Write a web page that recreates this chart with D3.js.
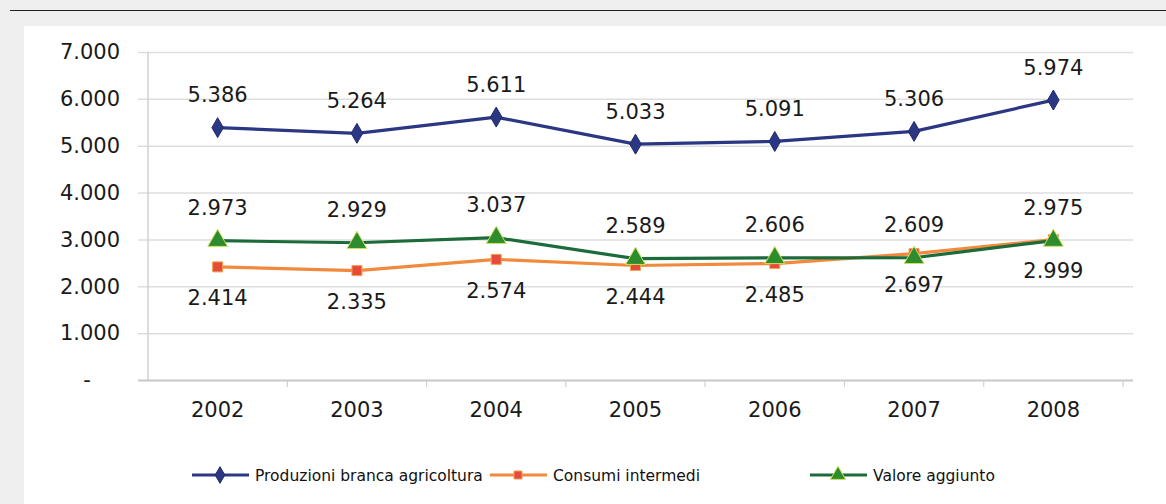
<!DOCTYPE html>
<html>
<head>
<meta charset="utf-8">
<script src="https://cdn.jsdelivr.net/npm/d3@7"></script>
<style>
  body { margin: 0; background: #efefef; }
  svg { display: block; }
  text { font-family: "DejaVu Sans", Verdana, sans-serif; fill: #1a1a1a; }
</style>
</head>
<body>
<div id="graph"></div>
<script>
'use strict';

const years = ['2002', '2003', '2004', '2005', '2006', '2007', '2008'];
const produzioni = [5386, 5264, 5611, 5033, 5091, 5306, 5974];
const consumi = [2414, 2335, 2574, 2444, 2485, 2697, 2999];
const valore = [2973, 2929, 3037, 2589, 2606, 2609, 2975];
const yTicks = [0, 1000, 2000, 3000, 4000, 5000, 6000, 7000];
const seriesNames = ['Produzioni branca agricoltura', 'Consumi intermedi', 'Valore aggiunto'];

var W = 1166, H = 504;
var padl = 148, padr = 43, padt = 52, padb = 124;
var w = W - padl - padr, h = H - padt - padb;

var fmt = d3.formatLocale({ decimal: ',', thousands: '.', grouping: [3] }).format(',');

var x = d3.scaleBand().domain(years).range([0, w]);
var y = d3.scaleLinear().domain([0, 7000]).range([h, 0]);

var svg = d3.select('#graph').append('svg')
    .attr('width', W)
    .attr('height', H);

// background: grey frame, black rule, white panel
svg.append('line')
    .attr('x1', 10).attr('x2', W).attr('y1', 10.5).attr('y2', 10.5)
    .attr('stroke', '#222').attr('stroke-width', 1.2);
svg.append('rect')
    .attr('x', 24).attr('y', 26).attr('width', W - 24).attr('height', H - 26)
    .attr('fill', '#fff');

var vis = svg.append('g')
    .attr('transform', 'translate(' + padl + ',' + padt + ')');

// gridlines + y labels
var yAxis = d3.axisLeft(y)
    .tickValues(yTicks)
    .tickSize(-w - 10)
    .tickPadding(18)
    .tickFormat((d) => d === 0 ? '-' : fmt(d));

vis.append('g')
    .attr('class', 'y axis')
    .attr('transform', 'translate(-10,0)')
    .call(yAxis)
    .call((g) => g.select('.domain').remove())
    .call((g) => g.selectAll('.tick line')
        .attr('transform', 'translate(10,0)')
        .attr('x1', -10)
        .attr('stroke', (d) => d === 0 ? '#c8c8c8' : '#dedede')
        .attr('stroke-width', (d) => d === 0 ? 2 : 1.5))
    .call((g) => g.selectAll('.tick text')
        .attr('x', (d) => d === 0 ? -51 : -18)
        .attr('text-anchor', (d) => d === 0 ? 'middle' : 'end')
        .style('font-size', '21px'));

// vertical axis line
vis.append('line')
    .attr('x1', 0).attr('x2', 0).attr('y1', 0).attr('y2', h)
    .attr('stroke', '#d0d0d0').attr('stroke-width', 1.5);

// x axis
var xAxis = d3.axisBottom(x).tickSize(0).tickPadding(22);
vis.append('g')
    .attr('class', 'x axis')
    .attr('transform', 'translate(0,' + h + ')')
    .call(xAxis)
    .call((g) => g.select('.domain').remove())
    .call((g) => g.selectAll('.tick text').style('font-size', '21px'));

// band separators below the zero line
vis.append('g').selectAll('line')
    .data(years)
    .enter().append('line')
    .attr('x1', (d) => x(d) + x.bandwidth())
    .attr('x2', (d) => x(d) + x.bandwidth())
    .attr('y1', h).attr('y2', h + 7)
    .attr('stroke', '#d0d0d0').attr('stroke-width', 1.2);

var cx = (i) => x(years[i]) + x.bandwidth() / 2;

var series = [
  { name: seriesNames[0], data: produzioni, line: '#2b3783', marker: d3.symbolDiamond, size: 115, lsize: 80, fill: '#2b3783', stroke: '#1f2a6e', dy: -33 },
  { name: seriesNames[1], data: consumi, line: '#f08a3c', marker: d3.symbolSquare, size: 100, lsize: 64, fill: '#e84a3a', stroke: '#f0a050', dy: 31 },
  { name: seriesNames[2], data: valore, line: '#1c6b3a', marker: d3.symbolTriangle, size: 170, lsize: 100, fill: '#2e8b2e', stroke: '#cfe060', dy: -33 }
];

var line = d3.line().x((d, i) => cx(i)).y((d) => y(d));

series.forEach(function (s) {
  vis.append('path')
    .datum(s.data)
    .attr('fill', 'none')
    .attr('stroke', s.line)
    .attr('stroke-width', 3.2)
    .attr('stroke-linejoin', 'round')
    .attr('d', line);
});

series.forEach(function (s) {
  vis.append('g').selectAll('path')
    .data(s.data)
    .enter().append('path')
    .attr('d', d3.symbol().type(s.marker).size(s.size))
    .attr('transform', (d, i) => 'translate(' + cx(i) + ',' + y(d) + ')')
    .attr('fill', s.fill)
    .attr('stroke', s.stroke)
    .attr('stroke-width', 1);
});

series.forEach(function (s) {
  vis.append('g').selectAll('text')
    .data(s.data)
    .enter().append('text')
    .attr('x', (d, i) => cx(i))
    .attr('y', (d) => y(d) + s.dy)
    .attr('dy', '0.36em')
    .attr('text-anchor', 'middle')
    .style('font-size', '21px')
    .text((d) => fmt(d));
});

// legend
var legendX = [192, 490, 810];
var legend = svg.append('g').attr('transform', 'translate(0,475)');
series.forEach(function (s, i) {
  var g = legend.append('g').attr('transform', 'translate(' + legendX[i] + ',0)');
  g.append('line')
    .attr('x1', 0).attr('x2', 57).attr('y1', 0).attr('y2', 0)
    .attr('stroke', s.line).attr('stroke-width', 3);
  g.append('path')
    .attr('d', d3.symbol().type(s.marker).size(s.lsize))
    .attr('transform', 'translate(28,0)')
    .attr('fill', s.fill)
    .attr('stroke', s.stroke);
  g.append('text')
    .attr('x', 63)
    .attr('dy', '0.36em')
    .style('font-size', '15.5px')
    .style('fill', '#111')
    .text(s.name);
});
</script>
</body>
</html>
